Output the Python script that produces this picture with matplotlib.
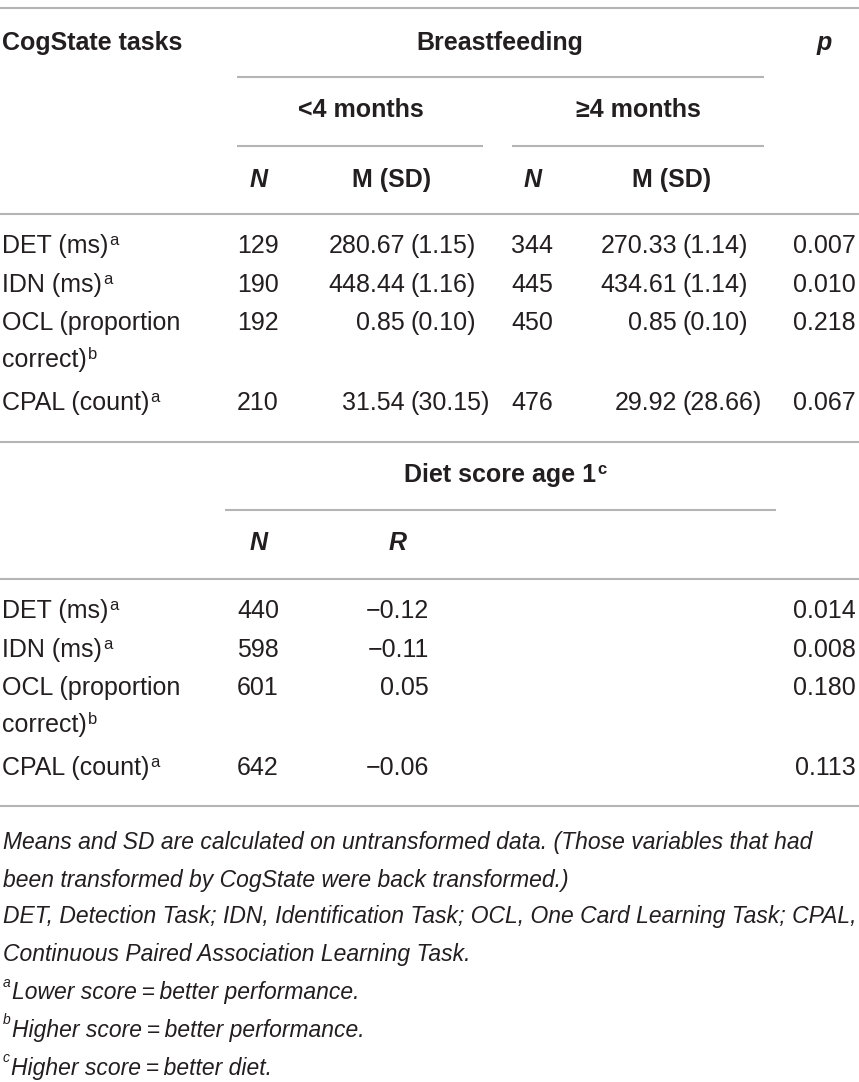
import matplotlib
matplotlib.use("Agg")
import matplotlib.pyplot as plt

# table values
tasks = ["DET (ms)", "IDN (ms)", "OCL (proportion", "CPAL (count)"]
task_sup = ["a", "a", "b", "a"]
n_lt4 = ["129", "190", "192", "210"]
mean_lt4 = ["280.67", "448.44", "0.85", "31.54"]
sd_lt4 = ["1.15", "1.16", "0.10", "30.15"]
n_ge4 = ["344", "445", "450", "476"]
mean_ge4 = ["270.33", "434.61", "0.85", "29.92"]
sd_ge4 = ["1.14", "1.14", "0.10", "28.66"]
p_bf = ["0.007", "0.010", "0.218", "0.067"]
n_diet = ["440", "598", "601", "642"]
r_diet = ["\u22120.12", "\u22120.11", "0.05", "\u22120.06"]
p_diet = ["0.014", "0.008", "0.180", "0.113"]

notes = [
    ("", "Means and SD are calculated on untransformed data. (Those variables that had"),
    ("", "been transformed by CogState were back transformed.)"),
    ("", "DET, Detection Task; IDN, Identification Task; OCL, One Card Learning Task; CPAL,"),
    ("", "Continuous Paired Association Learning Task."),
    ("a", "Lower score\u2009=\u2009better performance."),
    ("b", "Higher score\u2009=\u2009better performance."),
    ("c", "Higher score\u2009=\u2009better diet."),
]

TXT = "#231f20"
LINE = "#b4b4b4"
body = ["Liberation Sans", "DejaVu Sans"]
FS = 18

fig = plt.figure(figsize=(8.59, 10.82), dpi=100)
ax = fig.add_axes([0, 0, 1, 1])
ax.set_xlim(0, 859)
ax.set_ylim(1082, 0)
ax.axis("off")
renderer = fig.canvas.get_renderer()
inv = ax.transData.inverted()


def txt(x, y, s, ha="left", size=FS, **kw):
    return ax.text(x, y, s, ha=ha, va="center", family=body, fontsize=size,
                   color=TXT, **kw)


def sup_after(t, s, size=12, **kw):
    bb = t.get_window_extent(renderer)
    x, y = inv.transform((bb.x1 + 1, bb.y1 + 1))
    ax.text(x, y, s, ha="left", va="top", family=body, fontsize=size,
            color=TXT, **kw)


def hline(y, x0=0, x1=859):
    ax.plot([x0, x1], [y, y], color=LINE, lw=1.5, solid_capstyle="butt")


# header
hline(8)
txt(2, 43, "CogState tasks", weight="bold")
txt(500, 43, "Breastfeeding", ha="center", weight="bold")
txt(824, 43, "p", ha="center", weight="bold", style="italic")
hline(77, 237, 764)
txt(361, 110, "<4 months", ha="center", weight="bold")
txt(638, 110, "\u22654 months", ha="center", weight="bold")
hline(146, 237, 483)
hline(146, 512, 764)
for xn, xm in [(259, 392), (533, 672)]:
    txt(xn, 180, "N", ha="center", weight="bold", style="italic")
    txt(xm, 180, "M (SD)", ha="center", weight="bold")
hline(214)

rows_top = [246, 285, 323, 403]
for i, y in enumerate(rows_top):
    t = txt(2, y, tasks[i])
    if i == 2:
        t = txt(2, y + 37, "correct)")
    sup_after(t, task_sup[i])
    txt(279, y, n_lt4[i], ha="right")
    txt(405, y, mean_lt4[i], ha="right")
    txt(410, y, "(" + sd_lt4[i] + ")")
    txt(553, y, n_ge4[i], ha="right")
    txt(677, y, mean_ge4[i], ha="right")
    txt(682, y, "(" + sd_ge4[i] + ")")
    txt(856, y, p_bf[i], ha="right")

hline(442)
t = txt(500, 475, "Diet score age 1", ha="center", weight="bold")
sup_after(t, "c", weight="bold")
hline(510, 225, 776)
txt(259, 543, "N", ha="center", weight="bold", style="italic")
txt(398, 543, "R", ha="center", weight="bold", style="italic")
hline(579)

rows_diet = [611, 650, 688, 768]
for i, y in enumerate(rows_diet):
    t = txt(2, y, tasks[i])
    if i == 2:
        t = txt(2, y + 37, "correct)")
    sup_after(t, task_sup[i])
    txt(279, y, n_diet[i], ha="right")
    txt(429, y, r_diet[i], ha="right")
    txt(856, y, p_diet[i], ha="right")

hline(806)

# footnotes: size so the longest line fits the width
probe = txt(0, -100, max((n[1] for n in notes), key=len), style="italic", size=17)
w = probe.get_window_extent(renderer).width
probe.remove()
nfs = 17 * 852 / w

note_y = [842, 880, 917, 955, 993, 1030, 1068]
for (s, line), y in zip(notes, note_y):
    x = 3
    if s:
        st = ax.text(x, y - 10, s, ha="left", va="center", family=body,
                     fontsize=10, style="italic", color=TXT)
        bb = st.get_window_extent(renderer)
        x = inv.transform((bb.x1 + 1, 0))[0]
    txt(x, y, line, style="italic", size=nfs)

fig.savefig("out.png", dpi=100, facecolor="white")
